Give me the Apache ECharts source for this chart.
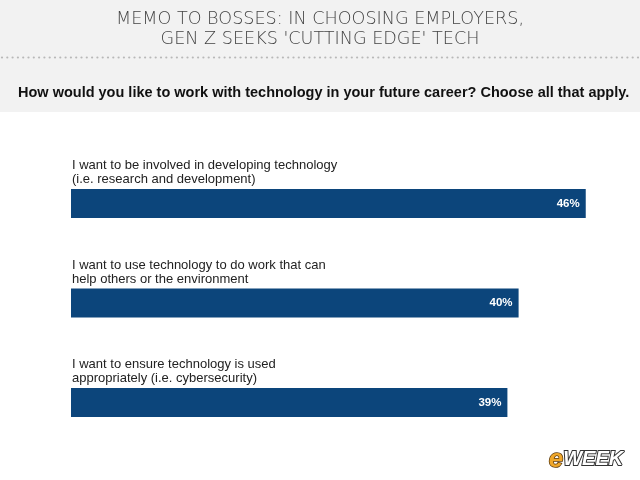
<!DOCTYPE html>
<html>
<head>
<meta charset="utf-8">
<script src="https://cdn.jsdelivr.net/npm/echarts@6/dist/echarts.min.js"></script>
<style>html,body{margin:0;padding:0;background:#fff}#c{width:640px;height:480px}</style>
</head>
<body>
<div id="c"></div>
<script>
const categories = [
  "I want to be involved in developing technology\n(i.e. research and development)",
  "I want to use technology to do work that can\nhelp others or the environment",
  "I want to ensure technology is used\nappropriately (i.e. cybersecurity)"
];
const values = [46, 40, 39];
const titleText = "MEMO TO BOSSES: IN CHOOSING EMPLOYERS,\nGEN Z SEEKS 'CUTTING EDGE' TECH";
const questionText = "How would you like to work with technology in your future career? Choose all that apply.";

const dots = [];
for (let i = 0; i < 121; i++) {
  dots.push({ type: 'circle', z: 2, silent: true, shape: { cx: 2 + i * 5.3, cy: 57.5, r: 1.1 }, style: { fill: '#b8b8b8' } });
}

const chart = echarts.init(document.getElementById('c'));
chart.setOption({
  backgroundColor: '#ffffff',
  animation: false,
  graphic: [
    { type: 'rect', z: 0, silent: true, shape: { x: 0, y: 0, width: 640, height: 112 }, style: { fill: '#f2f2f2' } }
  ].concat(dots).concat([
    { type: 'text', z: 5, left: 548, top: 446, style: {
        text: '{e|e}{w|WEEK}',
        rich: {
          e: { fontSize: 26, fontWeight: 'bold', fontStyle: 'italic', fontFamily: 'Liberation Sans', fill: '#f0a72a', stroke: '#5a3a10', lineWidth: 1.5 },
          w: { fontSize: 20, fontWeight: 'bold', fontStyle: 'italic', fontFamily: 'Liberation Sans', fill: '#ffffff', stroke: '#333333', lineWidth: 2 }
        }
      } }
  ]),
  title: [
    { text: titleText, left: 'center', top: 4,
      textStyle: { fontSize: 17.6, fontWeight: 200, color: '#444444', lineHeight: 20, fontFamily: 'DejaVu Sans', align: 'center' } },
    { text: questionText, left: 13, top: 80,
      textStyle: { fontSize: 14.5, fontWeight: 'bold', color: '#111111', fontFamily: 'Liberation Sans' } }
  ],
  grid: { left: 71, right: 9.5, top: 153.75, bottom: 27.75, containLabel: false },
  xAxis: { type: 'value', min: 0, max: 50, show: false },
  yAxis: {
    type: 'category', data: categories, inverse: true,
    axisLine: { show: false }, axisTick: { show: false }, splitLine: { show: false },
    axisLabel: { inside: true, margin: 1, verticalAlign: 'bottom', lineHeight: 14, padding: [0, 0, 17, 0],
      fontSize: 13, color: '#222222', fontFamily: 'Liberation Sans', interval: 0 }
  },
  series: [{
    type: 'bar', data: values, barWidth: 29,
    itemStyle: { color: '#0c457b' },
    label: { show: true, position: 'insideRight', distance: 6, formatter: '{c}%',
      color: '#ffffff', fontWeight: 'bold', fontSize: 11.5, fontFamily: 'Liberation Sans' }
  }]
});
</script>
</body>
</html>
